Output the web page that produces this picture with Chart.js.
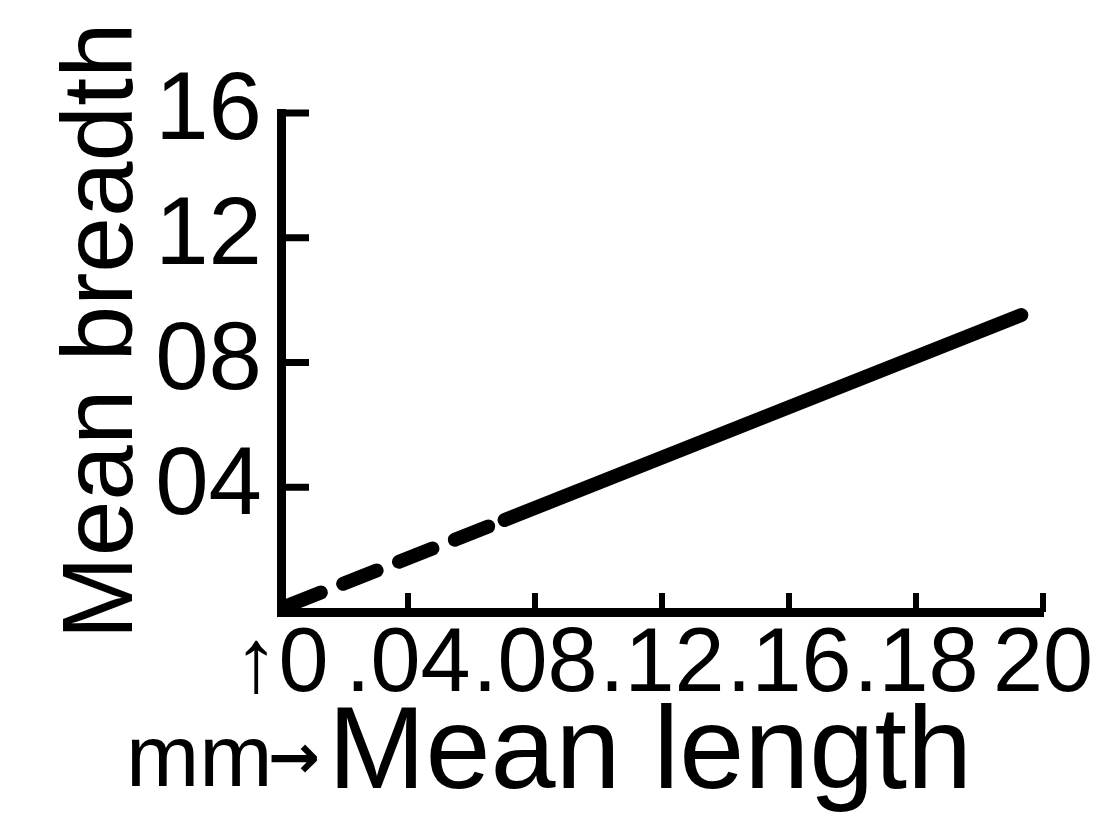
<!DOCTYPE html>
<html>
<head>
<meta charset="utf-8">
<script src="https://cdn.jsdelivr.net/npm/chart.js@4.4.1/dist/chart.umd.min.js"></script>
<style>
  html, body { margin: 0; padding: 0; background: #fff; }
  #wrap { width: 1115px; height: 840px; position: relative; }
</style>
</head>
<body>
<div id="wrap"><canvas id="chart"></canvas></div>
<script>
// printed x scale is uneven, so length is kept in tick steps
const xTickLabels = ['↑0', '.04', '.08', '.12', '.16', '.18', '20'];
const yTickLabels = ['', '04', '08', '12', '16'];
const meanLength = [0.05, 1.76, 5.83];
const meanBreadth = [0.002, 0.0295, 0.0952];
const dashedSegments = 1;

const yTitle = 'Mean breadth';
const xUnit = 'mm';
const xArrow = '→';
const xTitle = 'Mean length';

const tickFont = '"Liberation Sans", sans-serif';
const titleFont = '"Liberation Sans", sans-serif';

// ticks in the original point into the plot, not out of it
const inwardTicks = {
    id: 'inwardTicks',
    afterDraw(chart) {
        const { ctx, chartArea, scales: { x, y } } = chart;
        ctx.save();
        ctx.strokeStyle = '#000';
        ctx.lineWidth = 7;
        y.ticks.forEach(t => {
            if (t.value <= 0) return;
            const py = y.getPixelForValue(t.value);
            ctx.beginPath();
            ctx.moveTo(chartArea.left, py);
            ctx.lineTo(chartArea.left + 28, py);
            ctx.stroke();
        });
        ctx.lineWidth = 6;
        x.ticks.forEach(t => {
            if (t.value <= 0) return;
            const px = x.getPixelForValue(t.value);
            ctx.beginPath();
            ctx.moveTo(px, chartArea.bottom);
            ctx.lineTo(px, chartArea.bottom - 19);
            ctx.stroke();
        });
        ctx.restore();
    }
};

const axisTitles = {
    id: 'axisTitles',
    afterDraw(chart) {
        const ctx = chart.ctx;
        ctx.save();
        ctx.fillStyle = '#000';
        ctx.font = '100px ' + titleFont;
        ctx.textAlign = 'center';
        ctx.textBaseline = 'alphabetic';
        ctx.translate(132, 331);
        ctx.rotate(-Math.PI / 2);
        ctx.fillText(yTitle, 0, 0);
        ctx.restore();

        ctx.save();
        ctx.fillStyle = '#000';
        ctx.textAlign = 'left';
        ctx.textBaseline = 'alphabetic';
        ctx.font = '88px ' + titleFont;
        ctx.fillText(xUnit, 126, 786);
        ctx.font = 'bold 62px "DejaVu Sans", sans-serif';
        ctx.fillText(xArrow, 268, 778);
        ctx.font = '117px ' + titleFont;
        ctx.fillText(xTitle, 328, 788);
        ctx.restore();
    }
};

new Chart(document.getElementById('chart'), {
    type: 'line',
    data: {
        datasets: [{
            data: meanLength.map((v, i) => ({ x: v, y: meanBreadth[i] })),
            borderColor: '#000',
            borderWidth: 14,
            borderCapStyle: 'round',
            pointRadius: 0,
            tension: 0,
            clip: false,
            segment: {
                borderDash: ctx => ctx.p0DataIndex < dashedSegments ? [36, 24] : undefined
            }
        }]
    },
    options: {
        responsive: true,
        maintainAspectRatio: false,
        animation: false,
        layout: { padding: { top: 113, right: 72, bottom: 0, left: 0 } },
        plugins: {
            legend: { display: false },
            tooltip: { enabled: false }
        },
        scales: {
            x: {
                type: 'linear',
                min: 0,
                max: 6,
                grid: { display: false, drawTicks: false },
                border: { color: '#000', width: 9 },
                ticks: {
                    stepSize: 1,
                    padding: 9,
                    color: '#000',
                    maxRotation: 0,
                    autoSkip: false,
                    font: { family: tickFont, size: 90, lineHeight: 1 },
                    callback: (v, i) => xTickLabels[i]
                },
                afterFit: scale => { scale.height = 228; }
            },
            y: {
                min: 0,
                max: 0.16,
                grid: { display: false, drawTicks: false },
                border: { color: '#000', width: 9 },
                ticks: {
                    stepSize: 0.04,
                    padding: 19,
                    color: '#000',
                    font: { family: tickFont, size: 96, lineHeight: 1 },
                    callback: (v, i) => yTickLabels[i]
                },
                afterFit: scale => { scale.width = 281; }
            }
        }
    },
    plugins: [inwardTicks, axisTitles]
});
</script>
</body>
</html>
